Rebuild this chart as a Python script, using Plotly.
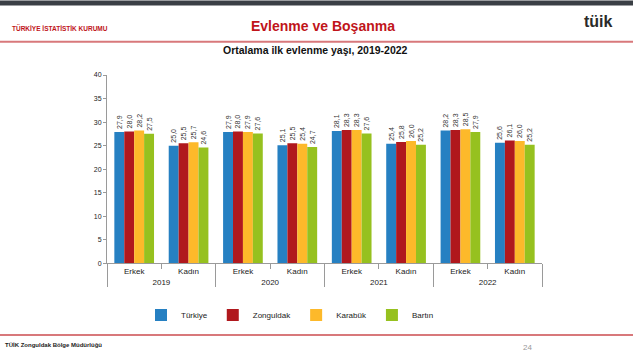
import plotly.graph_objects as go

years = ["2019", "2019", "2020", "2020", "2021", "2021", "2022", "2022"]
sexes = ["Erkek", "Kadın", "Erkek", "Kadın", "Erkek", "Kadın", "Erkek", "Kadın"]

turkiye = [27.9, 25.0, 27.9, 25.1, 28.1, 25.4, 28.2, 25.6]
zonguldak = [28.0, 25.5, 28.0, 25.5, 28.3, 25.8, 28.3, 26.1]
karabuk = [28.2, 25.7, 27.9, 25.4, 28.3, 26.0, 28.5, 26.0]
bartin = [27.5, 24.6, 27.6, 24.7, 27.6, 25.2, 27.9, 25.2]

series_names = ["Türkiye", "Zonguldak", "Karabük", "Bartın"]
series_values = [turkiye, zonguldak, karabuk, bartin]
colors = ["#2680c2", "#b0181d", "#fdb92a", "#96c11f"]

W, H = 633, 363
L, R, T, B = 107, 91, 74.7, 30
pw, ph = W - L - R, H - T - B
AXIS_BOTTOM = 263.3

def px(x):
    return (x - L) / pw

def py(y):
    return (H - B - y) / ph

fig = go.Figure()
for name, vals, col in zip(series_names, series_values, colors):
    fig.add_trace(go.Bar(
        x=[years, sexes], y=vals, name=name, marker_color=col,
        marker_line_width=0,
        texttemplate="%{y:.1f}", textposition="outside", textangle=-90,
        textfont=dict(size=7, color="#333333", family="Liberation Sans"),
        cliponaxis=False,
    ))

fig.update_layout(
    width=W, height=H, autosize=False,
    margin=dict(l=L, r=R, t=T, b=B, pad=0),
    paper_bgcolor="white", plot_bgcolor="white",
    barmode="group", bargap=0.27, bargroupgap=0,
    separators=",.",
    font=dict(family="Liberation Sans", size=7, color="#222222"),
    showlegend=True,
    legend=dict(orientation="h", x=px(141), y=py(315), xanchor="left", yanchor="middle",
                font=dict(size=8, color="#222222"),
                bgcolor="rgba(0,0,0,0)", tracegroupgap=0),
    uniformtext=dict(minsize=6, mode="show"),
)

fig.update_yaxes(range=[0, 40], dtick=5, showgrid=False, zeroline=False,
                 domain=[py(AXIS_BOTTOM), 1],
                 showline=True, linecolor="#9a9a9a", linewidth=1,
                 ticks="outside", ticklen=3, tickcolor="#9a9a9a",
                 tickfont=dict(size=7, color="#222222"))
fig.update_xaxes(type="multicategory", showgrid=False, showline=True,
                 linecolor="#9a9a9a", linewidth=1, showdividers=True,
                 dividercolor="#9a9a9a", dividerwidth=1, ticks="outside",
                 tickcolor="#9a9a9a", ticklen=5,
                 tickfont=dict(size=8, color="#222222"))

shapes = [
    dict(type="rect", xref="paper", yref="paper", x0=px(0), x1=px(W), y0=py(0), y1=py(5),
         fillcolor="#3a3f45", line_width=0, layer="above"),
    dict(type="line", xref="paper", yref="paper", x0=px(0), x1=px(W), y0=py(41.5), y1=py(41.5),
         line=dict(color="#d8787b", width=2)),
    dict(type="line", xref="paper", yref="paper", x0=px(0), x1=px(W), y0=py(335), y1=py(335),
         line=dict(color="#d8787b", width=2)),
]
fig.update_layout(shapes=shapes)

def ann(text, x, y, size, color, xanchor="center"):
    return dict(text=text, x=px(x), y=py(y), xref="paper", yref="paper",
                xanchor=xanchor, yanchor="middle", showarrow=False,
                font=dict(size=size, color=color, family="Liberation Sans"))

annotations = [
    ann("<b>TÜRKİYE İSTATİSTİK KURUMU</b>", 10, 28, 6.5, "#c0141a", "left"),
    ann("<b>Evlenme ve Boşanma</b>", 323, 26, 14, "#c0141a"),
    ann("<b>tüik</b>", 598, 21, 16, "#2a2a2a"),
    ann("<b>Ortalama ilk evlenme yaşı, 2019-2022</b>", 315, 50, 10.5, "#111111"),
    ann("<b>TÜİK Zonguldak Bölge Müdürlüğü</b>", 3, 345, 6, "#222222", "left"),
    ann("24", 527, 348, 8, "#999999"),
]
fig.update_layout(annotations=annotations)

fig.write_html("out.html", config={"displayModeBar": False},
               post_script="document.body.style.margin='0';")
